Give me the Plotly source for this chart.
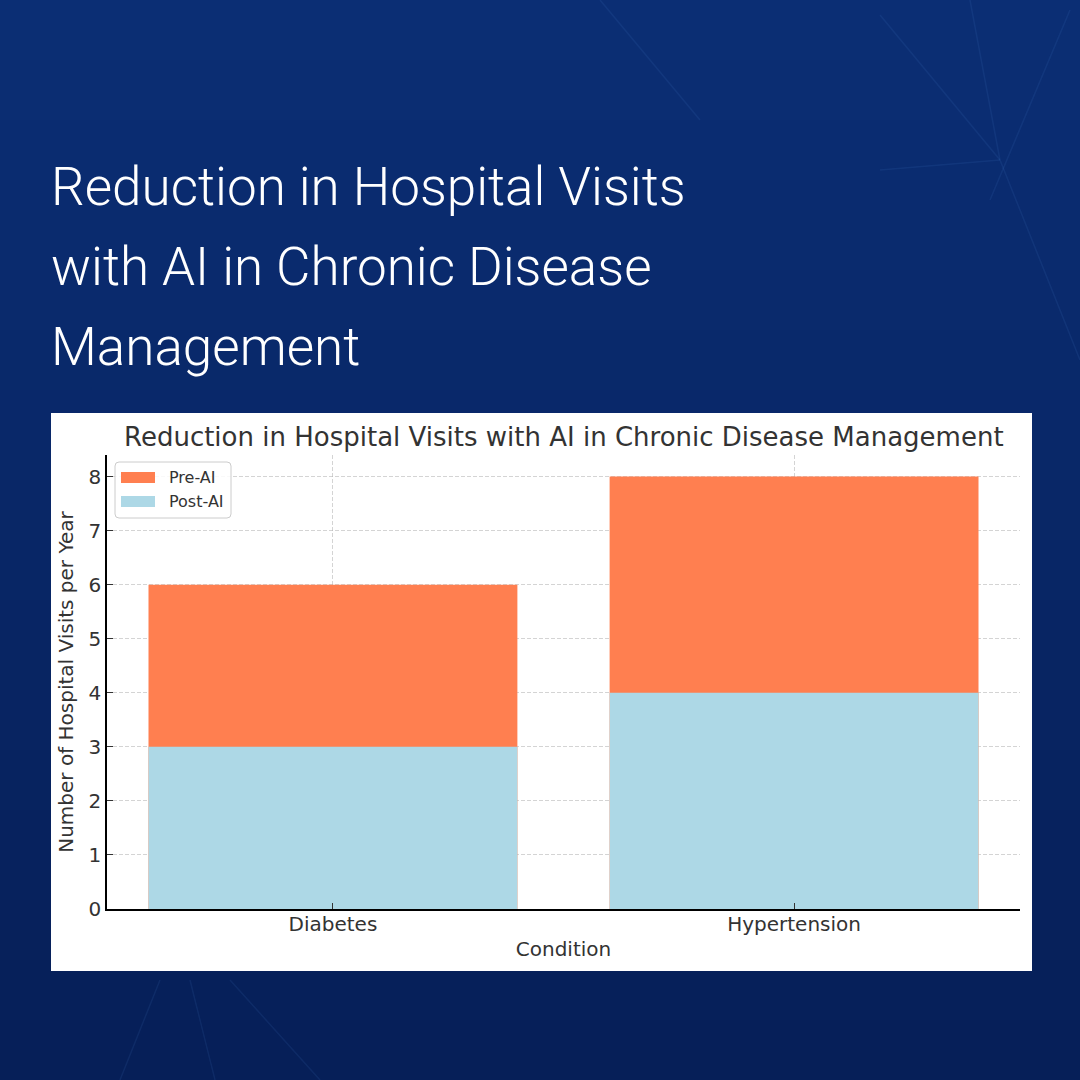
import plotly.graph_objects as go

conditions = ["Diabetes", "Hypertension"]
pre_ai = [6, 8]
post_ai = [3, 4]
series_names = ["Pre-AI", "Post-AI"]
series_colors = ["#FF7F50", "#ADD8E6"]
y_ticks = [0, 1, 2, 3, 4, 5, 6, 7, 8]

heading_lines = ["Reduction in Hospital Visits", "with AI in Chronic Disease", "Management"]
chart_title = "Reduction in Hospital Visits with AI in Chronic Disease Management"

W, H = 1080, 1080
L, R, T, B = 107, 60, 455, 171
pw = W - L - R
ph = H - T - B


def px_x(x):
    return (x - L) / pw


def px_y(y):
    return (H - B - y) / ph


FONT = "DejaVu Sans"
TXT = "#333333"

fig = go.Figure()
for name, vals, col in zip(series_names, [pre_ai, post_ai], series_colors):
    fig.add_trace(go.Bar(x=conditions, y=vals, name=name, marker=dict(color=col, line=dict(width=0)),
                         width=0.8, showlegend=False))

shapes = []
# soft vertical background gradient
top_rgb = (11, 46, 116)
bot_rgb = (6, 31, 88)
n_bands = 36
band_h = H / n_bands
for i in range(n_bands):
    t = i / (n_bands - 1)
    c = tuple(round(a + (b - a) * t) for a, b in zip(top_rgb, bot_rgb))
    shapes.append(dict(type="rect", xref="paper", yref="paper", x0=px_x(0), x1=px_x(W),
                       y0=px_y(min(H, (i + 1) * band_h + 1)), y1=px_y(i * band_h),
                       fillcolor=f"rgb{c}", line=dict(width=0), layer="below"))

# subtle decorative lines
bg_lines = [((880, 15), (1000, 160)), ((970, 0), (1000, 160)), ((1070, 10), (990, 200)),
            ((880, 170), (1000, 160)), ((120, 1080), (160, 980)), ((215, 1080), (190, 980)),
            ((230, 980), (320, 1080)), ((600, 0), (700, 120)), ((1000, 160), (1080, 360))]
for (x0, y0), (x1, y1) in bg_lines:
    shapes.append(dict(type="line", xref="paper", yref="paper", x0=px_x(x0), y0=px_y(y0), x1=px_x(x1),
                       y1=px_y(y1), line=dict(color="rgba(90,150,230,0.10)", width=1.5), layer="below"))

# white chart panel
shapes.append(dict(type="rect", xref="paper", yref="paper", x0=px_x(51), x1=px_x(1032), y0=px_y(971),
                   y1=px_y(413), fillcolor="white", line=dict(width=0), layer="below"))

# legend box (rounded)
lx0, lx1, ly0, ly1, rr = 115, 231, 462, 518, 4
p = [
    (lx0 + rr, ly0), (lx1 - rr, ly0), (lx1, ly0 + rr), (lx1, ly1 - rr), (lx1 - rr, ly1), (lx0 + rr, ly1),
    (lx0, ly1 - rr), (lx0, ly0 + rr)
]
legend_path = (f"M {px_x(p[0][0])},{px_y(p[0][1])} L {px_x(p[1][0])},{px_y(p[1][1])} "
               f"Q {px_x(lx1)},{px_y(ly0)} {px_x(p[2][0])},{px_y(p[2][1])} "
               f"L {px_x(p[3][0])},{px_y(p[3][1])} Q {px_x(lx1)},{px_y(ly1)} {px_x(p[4][0])},{px_y(p[4][1])} "
               f"L {px_x(p[5][0])},{px_y(p[5][1])} Q {px_x(lx0)},{px_y(ly1)} {px_x(p[6][0])},{px_y(p[6][1])} "
               f"L {px_x(p[7][0])},{px_y(p[7][1])} Q {px_x(lx0)},{px_y(ly0)} {px_x(p[0][0])},{px_y(p[0][1])} Z")
shapes.append(dict(type="path", xref="paper", yref="paper", path=legend_path, fillcolor="rgba(255,255,255,0.85)",
                   line=dict(color="#cccccc", width=1), layer="above"))

annotations = [
    dict(text=chart_title, xref="paper", yref="paper", x=0.5, y=px_y(437), xanchor="center", yanchor="middle",
         showarrow=False, font=dict(family=FONT, size=26, color=TXT)),
]
for i, (name, col) in enumerate(zip(series_names, series_colors)):
    yc = 477.5 + 24 * i
    shapes.append(dict(type="rect", xref="paper", yref="paper", x0=px_x(121), x1=px_x(155),
                       y0=px_y(yc + 5.5), y1=px_y(yc - 5.5), fillcolor=col, line=dict(width=0), layer="above"))
    annotations.append(dict(text=name, xref="paper", yref="paper", x=px_x(167), y=px_y(yc), xanchor="left",
                            yanchor="middle", showarrow=False, font=dict(family=FONT, size=16, color=TXT)))

for i, line in enumerate(heading_lines):
    annotations.append(dict(text=line, xref="paper", yref="paper", x=px_x(49), y=px_y(187 + 80 * i),
                            xanchor="left", yanchor="middle", showarrow=False,
                            font=dict(family="Roboto", size=53, color="white", weight=300)))

fig.update_layout(
    width=W, height=H,
    margin=dict(l=L, r=R, t=T, b=B),
    paper_bgcolor="#0a2865",
    plot_bgcolor="white",
    barmode="overlay",
    shapes=shapes,
    annotations=annotations,
    showlegend=False,
    font=dict(family=FONT, color=TXT),
)
fig.update_xaxes(
    range=[-0.49, 1.49], showline=True, linecolor="black", linewidth=1.5, ticks="inside", ticklen=6,
    tickcolor="#333333", tickfont=dict(family=FONT, size=20, color=TXT), showgrid=True,
    gridcolor="rgba(176,176,176,0.55)", griddash="4px,2px", gridwidth=1, layer="above traces",
    ticklabelstandoff=-4,
    title=dict(text="Condition", font=dict(family=FONT, size=20, color=TXT), standoff=7),
)
fig.update_yaxes(
    range=[0, 8.4], tickvals=y_ticks, showline=True, linecolor="black", linewidth=1.5, ticks="inside", ticklen=6,
    tickcolor="#333333", tickfont=dict(family=FONT, size=20, color=TXT), showgrid=True, zeroline=False,
    gridcolor="rgba(176,176,176,0.55)", griddash="4px,2px", gridwidth=1, layer="above traces",
    title=dict(text="Number of Hospital Visits per Year", font=dict(family=FONT, size=20, color=TXT), standoff=10),
)

fig.write_html("out.html")
